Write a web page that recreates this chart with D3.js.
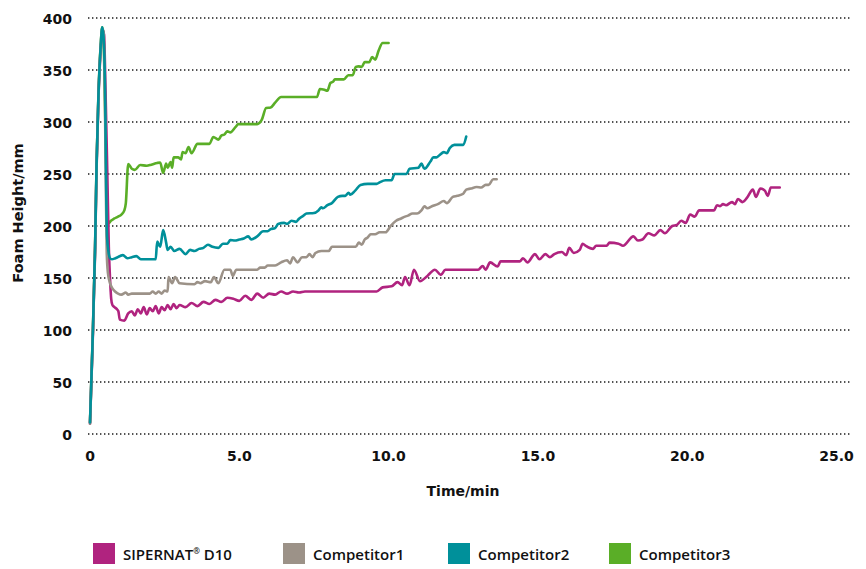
<!DOCTYPE html>
<html>
<head>
<meta charset="utf-8">
<script src="https://cdn.jsdelivr.net/npm/d3@7"></script>
<style>
  body { margin: 0; background: #fff; }
  svg { display: block; }
  .tick-label { font-family: "DejaVu Sans", sans-serif; font-weight: bold; font-size: 14px; fill: #111; }
  .axis-title { font-family: "DejaVu Sans", sans-serif; font-weight: bold; font-size: 14px; fill: #111; }
  .legend-label { font-family: "Open Sans", sans-serif; font-weight: 600; font-size: 15px; fill: #111; }
</style>
</head>
<body>
<div id="chart"></div>
<script>
// series names and colours
const seriesNames = ["SIPERNAT D10", "Competitor1", "Competitor2", "Competitor3"];
const seriesColors = ["#b0237f", "#9c9288", "#00909a", "#5aae27"];

// [time/min, foam height/mm]
const sipernatD10 = [[0,10],[0.08,80],[0.17,175],[0.22,255],[0.28,320],[0.36,370],[0.43,388],[0.47,384],[0.52,330],[0.58,250],[0.63,180],[0.67,150],[0.71,130],[0.75,124],[0.82,122],[0.9,120],[0.95,118],[1.0,110],[1.15,109],[1.28,116],[1.4,118],[1.5,114],[1.6,120],[1.7,116],[1.8,122],[1.9,115],[2.0,121],[2.1,118],[2.2,123],[2.3,116],[2.4,122],[2.5,119],[2.6,124],[2.7,120],[2.8,125],[2.9,121],[3.0,124],[3.2,122],[3.4,126],[3.6,123],[3.8,127],[4.0,125],[4.2,129],[4.4,127],[4.6,131],[4.8,130],[5.0,128],[5.2,133],[5.4,129],[5.6,135],[5.8,131],[6.0,135],[6.2,134],[6.4,137],[6.6,135],[6.8,137],[7.0,136],[7.2,137],[9.6,137],[9.8,141],[10.1,142],[10.3,146],[10.45,143],[10.55,151],[10.7,143],[10.85,158],[11.05,147],[11.3,152],[11.55,158],[11.75,153],[11.9,158],[13.0,158],[13.15,161.5],[13.25,158],[13.4,165],[13.65,161],[13.75,166],[14.4,166],[14.5,169],[14.65,165],[14.9,173],[15.05,168],[15.25,173],[15.4,170],[15.55,173],[15.8,175],[15.95,172],[16.05,179],[16.2,174],[16.4,177],[16.5,183],[16.6,181],[16.85,178],[16.95,181],[17.3,181],[17.4,184],[17.7,183],[17.85,181],[18.2,190],[18.35,186],[18.5,187],[18.7,193],[18.9,191],[19.1,196],[19.25,193],[19.5,200],[19.65,201],[19.8,205],[19.95,203],[20.1,211],[20.25,209],[20.4,215],[20.9,215],[21.0,220],[21.1,219],[21.2,221],[21.3,220],[21.5,223],[21.6,221],[21.7,226],[21.85,223],[22.0,227],[22.2,235],[22.3,228],[22.45,236],[22.6,234],[22.7,229],[22.8,237],[23.1,237]];

const competitor1 = [[0,10],[0.08,82],[0.17,178],[0.22,258],[0.28,322],[0.36,373],[0.41,390],[0.46,385],[0.5,320],[0.53,240],[0.56,175],[0.6,155],[0.67,145],[0.75,140],[0.84,137],[0.94,135],[1.05,134],[1.2,136],[1.28,134],[1.4,135],[2.0,135],[2.1,137],[2.2,135],[2.3,137],[2.4,135],[2.5,138],[2.6,137],[2.63,151],[2.75,145],[2.85,151],[3.0,145],[3.5,144],[3.6,146],[3.7,145],[3.85,147],[4.05,146],[4.15,151],[4.3,145],[4.5,158],[4.7,158],[4.78,152],[4.9,158],[5.6,158],[5.7,160],[5.85,160],[5.95,162],[6.2,162],[6.4,165],[6.6,167],[6.7,164],[6.8,170],[6.95,165],[7.1,170],[7.25,170],[7.35,173],[7.45,170],[7.55,174],[7.75,176],[8.0,176],[8.1,180],[8.9,180],[9.0,184],[9.1,182],[9.2,187],[9.3,189],[9.4,192],[9.55,192],[9.7,194],[9.9,194],[10.07,200],[10.25,205],[10.4,207],[10.55,209],[10.65,210],[10.8,212],[10.95,212],[11.1,215],[11.2,219],[11.3,217],[11.45,219],[11.65,221],[11.85,224],[11.95,222],[12.15,228],[12.3,229],[12.5,231],[12.6,235],[12.75,236],[12.95,237.5],[13.1,237],[13.25,239.5],[13.35,239.5],[13.5,245],[13.62,245]];

const competitor2 = [[0,11],[0.08,83],[0.17,179],[0.22,259],[0.28,323],[0.36,374],[0.41,391],[0.45,383],[0.51,320],[0.54,240],[0.57,190],[0.62,175],[0.67,169],[0.73,168],[0.85,169],[1.1,172],[1.25,169],[1.4,170],[1.55,171],[1.7,168],[2.2,168],[2.25,185],[2.35,180],[2.45,196],[2.55,184],[2.6,177],[2.7,180],[2.82,176],[3.0,178],[3.2,173],[3.35,177],[3.5,176],[3.65,178],[3.8,179],[3.95,182],[4.1,180],[4.3,179],[4.45,183],[4.6,183],[4.7,186.5],[4.85,186],[5.0,187],[5.15,188],[5.3,190],[5.4,187],[5.6,190],[5.8,195],[5.95,195],[6.05,197],[6.2,198],[6.3,202],[6.5,203],[6.6,202],[6.75,205],[6.9,204],[7.0,207],[7.15,210],[7.25,212],[7.5,212.5],[7.65,215],[7.75,218],[7.8,217],[7.95,220],[8.1,222],[8.3,228],[8.45,229],[8.55,229],[8.66,232],[8.72,230],[8.88,234],[9.06,239.5],[9.3,240.5],[9.6,240.5],[9.7,242],[9.9,244],[10.1,244],[10.2,250],[10.6,250],[10.7,255],[11.0,256],[11.1,260],[11.2,255],[11.4,262],[11.5,266],[11.6,266],[11.7,268],[11.85,271],[11.95,270],[12.05,275],[12.2,278],[12.5,278],[12.6,286]];

const competitor3 = [[0,11],[0.08,84],[0.17,180],[0.22,260],[0.28,324],[0.36,375],[0.41,391],[0.45,383],[0.5,320],[0.54,260],[0.58,215],[0.6,202],[0.7,205],[0.8,207],[0.94,209],[1.05,211],[1.15,215],[1.2,222],[1.28,259.6],[1.4,255],[1.5,254],[1.68,258.6],[1.9,258],[2.05,259],[2.25,260.6],[2.35,261],[2.45,251],[2.55,260],[2.6,256],[2.7,261.5],[2.75,256],[2.8,266],[2.95,266],[3.05,264],[3.1,271],[3.2,270],[3.3,276],[3.4,270],[3.6,279],[4.0,279],[4.13,285.6],[4.3,283],[4.4,287],[4.5,288],[4.6,291],[4.7,290],[4.87,295],[4.97,298],[5.6,298],[5.75,302],[5.9,313.5],[6.05,314],[6.2,318.6],[6.4,324],[7.6,324],[7.7,331.7],[7.85,331],[7.95,330],[8.05,337.5],[8.15,339],[8.2,341],[8.5,341],[8.65,345],[8.8,345],[8.9,353],[9.0,353.5],[9.1,353],[9.2,357.7],[9.35,357.5],[9.45,362.5],[9.55,360],[9.67,369],[9.8,376],[10.0,376]];

const xTicks = [0, 5, 10, 15, 20, 25];
const xTickLabels = ["0", "5.0", "10.0", "15.0", "20.0", "25.0"];
const yTicks = [0, 50, 100, 150, 200, 250, 300, 350, 400];

const width = 866, height = 569;

const x = d3.scaleLinear().domain([0, 25]).range([90, 836.5]);
const y = d3.scaleLinear().domain([0, 400]).range([434, 18]);

const svg = d3.select("#chart")
  .append("svg")
  .attr("width", width)
  .attr("height", height);

// dotted grid lines
svg.append("g")
  .selectAll("line")
  .data(yTicks)
  .enter()
  .append("line")
  .attr("x1", 88)
  .attr("x2", 852)
  .attr("y1", d => y(d))
  .attr("y2", d => y(d))
  .attr("stroke", "#1a1a1a")
  .attr("stroke-width", 1.4)
  .attr("stroke-dasharray", "1.4,2.6");

// y tick labels
svg.append("g")
  .selectAll("text")
  .data(yTicks)
  .enter()
  .append("text")
  .attr("class", "tick-label")
  .attr("x", 72)
  .attr("y", d => y(d) + 5.5)
  .attr("text-anchor", "end")
  .text(d => d);

// x tick labels
svg.append("g")
  .selectAll("text")
  .data(xTicks)
  .enter()
  .append("text")
  .attr("class", "tick-label")
  .attr("x", d => x(d))
  .attr("y", 461)
  .attr("text-anchor", "middle")
  .text((d, i) => xTickLabels[i]);

// axis titles
svg.append("text")
  .attr("class", "axis-title")
  .attr("x", 463)
  .attr("y", 496)
  .attr("text-anchor", "middle")
  .text("Time/min");

svg.append("text")
  .attr("class", "axis-title")
  .attr("transform", "translate(23,213) rotate(-90)")
  .attr("text-anchor", "middle")
  .style("font-size", "14.5px")
  .text("Foam Height/mm");

// lines
const line = d3.line()
  .curve(d3.curveMonotoneX)
  .x(d => x(d[0]))
  .y(d => y(d[1]));

const allSeries = [sipernatD10, competitor1, competitor2, competitor3];
const drawOrder = [3, 0, 1, 2];

svg.append("g")
  .selectAll("path")
  .data(drawOrder)
  .enter()
  .append("path")
  .attr("d", i => line(allSeries[i]))
  .attr("fill", "none")
  .attr("stroke", i => seriesColors[i])
  .attr("stroke-width", 2.6)
  .attr("stroke-linejoin", "round")
  .attr("stroke-linecap", "round");

// legend
const legendX = [93, 283, 448, 609];
const legend = svg.append("g")
  .selectAll("g")
  .data(seriesNames)
  .enter()
  .append("g")
  .attr("transform", (d, i) => "translate(" + legendX[i] + ",543)");

legend.append("rect")
  .attr("width", 22)
  .attr("height", 21)
  .attr("fill", (d, i) => seriesColors[i]);

legend.append("text")
  .attr("class", "legend-label")
  .attr("x", 30)
  .attr("y", 17)
  .each(function (d, i) {
    const t = d3.select(this);
    if (i === 0) {
      t.append("tspan").text("SIPERNAT");
      t.append("tspan").attr("dy", -6).style("font-size", "8px").text("®");
      t.append("tspan").attr("dy", 6).text(" D10");
    } else {
      t.text(d);
    }
  });
</script>
</body>
</html>
